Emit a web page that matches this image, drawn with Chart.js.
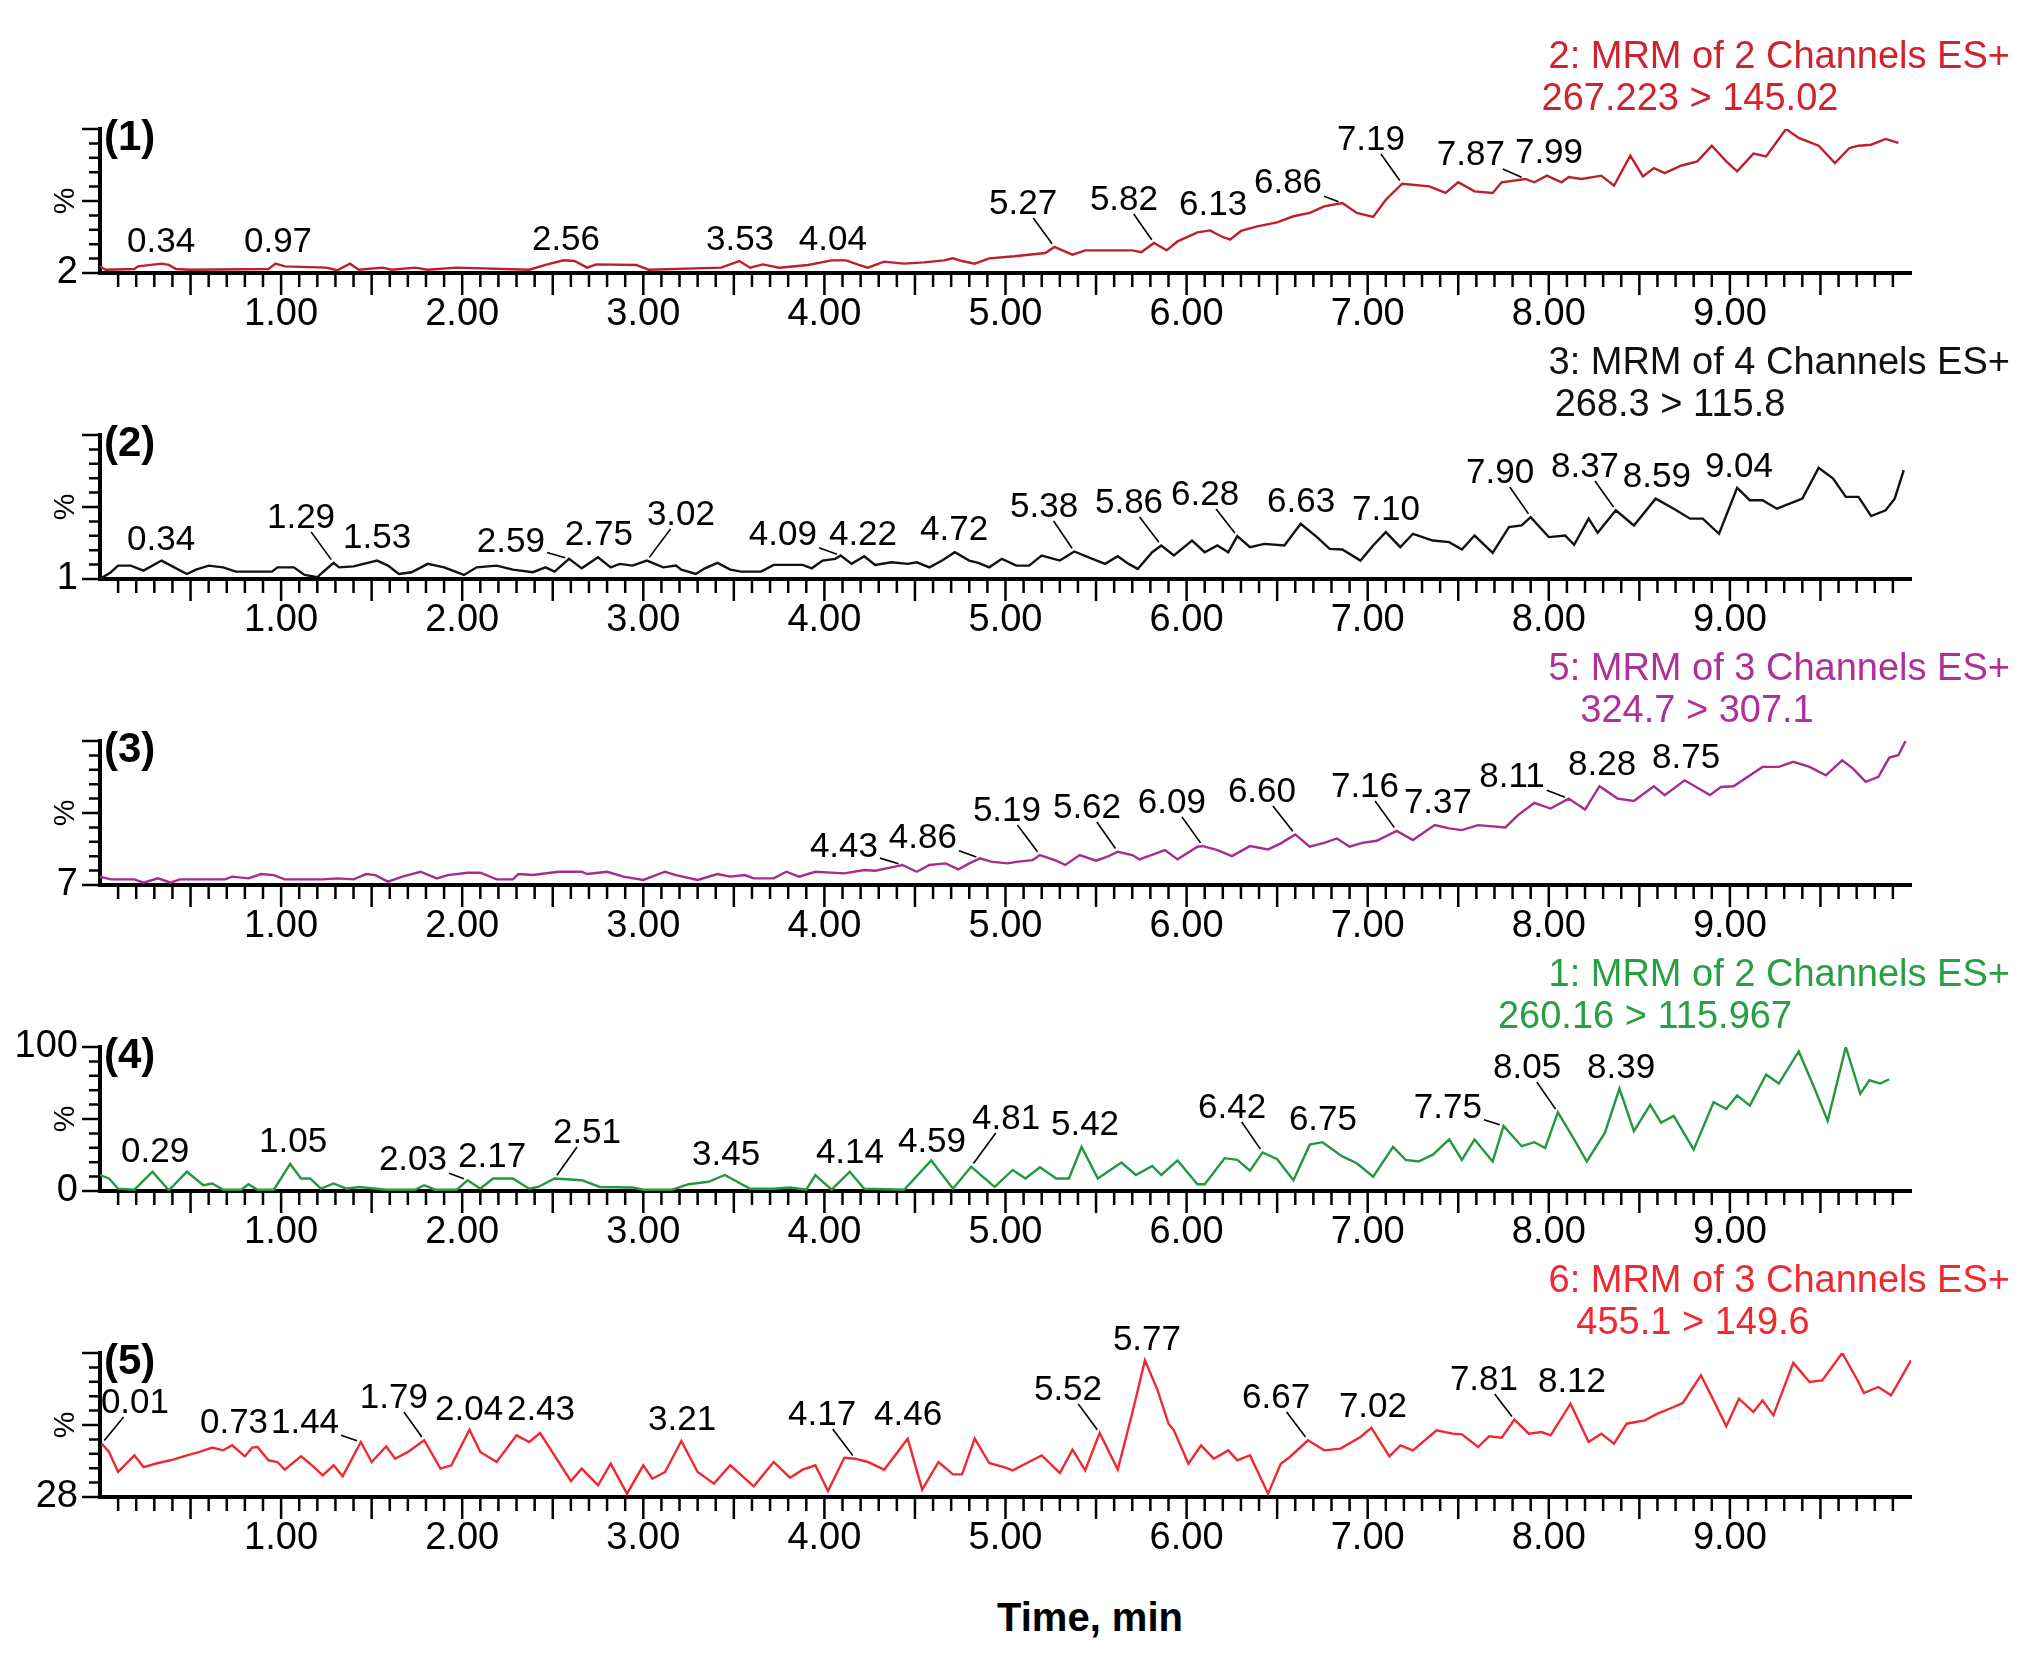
<!DOCTYPE html>
<html>
<head>
<meta charset="utf-8">
<title>MRM chromatograms</title>
<script src="https://cdn.jsdelivr.net/npm/chart.js@4.4.1/dist/chart.umd.min.js"></script>
<style>
  html, body { margin: 0; padding: 0; background: #fff; }
  body { width: 2035px; height: 1661px; position: relative; overflow: hidden; font-family: "Liberation Sans", Arial, sans-serif; }
  canvas { position: absolute; left: 0; }
  #xtitle { position: absolute; left: 940px; width: 300px; top: 1593px; line-height: 48px; text-align: center; font-weight: bold; font-size: 40px; color: #000; }
</style>
</head>
<body>
<div id="xtitle">Time, min</div>
<script>
// retention time (min) and relative intensity (%)
const rt1 = [0, 0.03, 0.19, 0.21, 0.34, 0.38, 0.42, 0.50, 0.93, 0.97, 1.02, 1.25, 1.31, 1.38, 1.43, 1.56, 1.61, 1.74, 1.81, 1.97, 2.37, 2.46, 2.56, 2.62, 2.69, 2.74, 2.96, 3.03, 3.43, 3.53, 3.59, 3.66, 3.75, 3.91, 4.04, 4.12, 4.19, 4.24, 4.33, 4.44, 4.55, 4.66, 4.71, 4.76, 4.83, 4.91, 5.05, 5.22, 5.27, 5.37, 5.44, 5.70, 5.75, 5.82, 5.89, 5.95, 6.06, 6.13, 6.19, 6.24, 6.30, 6.39, 6.50, 6.59, 6.68, 6.76, 6.86, 6.94, 7.03, 7.10, 7.19, 7.34, 7.43, 7.50, 7.59, 7.69, 7.74, 7.87, 7.92, 7.99, 8.07, 8.11, 8.18, 8.29, 8.36, 8.45, 8.52, 8.58, 8.64, 8.73, 8.82, 8.90, 8.98, 9.04, 9.13, 9.20, 9.31, 9.38, 9.49, 9.58, 9.66, 9.71, 9.78, 9.86, 9.93];
const int1 = [4.6, 2.3, 2.8, 4.6, 6.5, 5.6, 2.8, 2.3, 2.8, 6.5, 4.6, 3.7, 1.9, 6.5, 2.3, 3.7, 2.3, 3.7, 2.3, 3.7, 2.3, 5.6, 8.8, 8.3, 3.7, 6.0, 5.6, 2.3, 3.7, 8.3, 3.7, 6.0, 3.7, 5.6, 8.8, 8.8, 5.6, 3.7, 7.9, 6.5, 7.4, 8.8, 10.2, 8.3, 6.5, 10.2, 11.6, 13.9, 18.1, 12.7, 15.7, 15.7, 14.4, 20.8, 15.7, 22.0, 28.2, 29.6, 25.5, 23.1, 29.2, 32.4, 35.2, 39.4, 41.7, 46.3, 48.6, 41.7, 38.9, 50.9, 62.0, 60.2, 55.6, 63.0, 56.7, 55.6, 63.0, 65.3, 63.0, 67.6, 63.0, 66.7, 65.3, 67.6, 60.6, 81.5, 67.1, 72.9, 69.4, 74.5, 77.5, 88.4, 77.5, 70.6, 82.9, 81.0, 100, 93.8, 88.4, 76.4, 86.8, 88.4, 89.1, 93.1, 90.3];

const rt2 = [0, 0.06, 0.10, 0.17, 0.24, 0.34, 0.41, 0.48, 0.53, 0.60, 0.68, 0.75, 0.95, 0.98, 1.07, 1.13, 1.20, 1.23, 1.29, 1.32, 1.40, 1.53, 1.59, 1.65, 1.72, 1.81, 1.90, 2.01, 2.08, 2.19, 2.28, 2.39, 2.46, 2.51, 2.59, 2.66, 2.75, 2.82, 2.87, 2.94, 3.02, 3.11, 3.18, 3.21, 3.29, 3.34, 3.41, 3.48, 3.54, 3.65, 3.72, 3.88, 3.93, 3.99, 4.06, 4.09, 4.15, 4.22, 4.28, 4.37, 4.46, 4.51, 4.58, 4.65, 4.72, 4.80, 4.85, 4.91, 4.98, 5.06, 5.13, 5.20, 5.30, 5.38, 5.48, 5.55, 5.62, 5.68, 5.73, 5.81, 5.86, 5.93, 6.03, 6.10, 6.17, 6.23, 6.28, 6.35, 6.43, 6.54, 6.63, 6.72, 6.79, 6.86, 6.96, 7.03, 7.10, 7.18, 7.25, 7.36, 7.45, 7.52, 7.59, 7.69, 7.78, 7.85, 7.90, 8.00, 8.09, 8.14, 8.22, 8.27, 8.37, 8.47, 8.59, 8.69, 8.78, 8.85, 8.94, 9.04, 9.11, 9.18, 9.26, 9.40, 9.49, 9.57, 9.64, 9.71, 9.78, 9.86, 9.91, 9.96];
const int2 = [0, 4.7, 9.3, 9.3, 5.8, 12.8, 8.1, 3.5, 6.5, 9.3, 8.1, 5.1, 5.1, 8.1, 8.1, 2.8, 1.2, 4.7, 11.2, 8.1, 8.8, 12.8, 9.3, 3.5, 4.7, 10.5, 8.1, 2.8, 8.1, 9.3, 6.5, 4.7, 8.1, 5.1, 14.0, 7.4, 15.1, 8.1, 10.5, 9.3, 12.8, 8.1, 9.3, 6.5, 3.5, 7.4, 11.2, 6.5, 5.1, 5.1, 9.8, 9.8, 7.4, 12.8, 14.0, 16.3, 10.5, 15.8, 9.8, 11.6, 10.5, 11.6, 8.1, 12.8, 18.6, 12.8, 11.2, 8.1, 14.0, 9.3, 9.3, 16.3, 12.8, 19.1, 14.0, 10.5, 15.8, 10.5, 7.0, 18.6, 23.3, 16.3, 26.7, 18.6, 23.3, 18.6, 29.8, 22.1, 24.4, 23.3, 38.4, 29.1, 20.9, 20.5, 12.8, 23.3, 32.6, 22.1, 31.4, 26.7, 25.6, 20.5, 30.2, 18.1, 36.0, 37.2, 43.0, 29.1, 30.2, 23.7, 41.9, 32.1, 47.7, 37.2, 55.8, 48.8, 41.9, 41.9, 31.4, 63.3, 54.7, 54.7, 48.8, 55.8, 77.2, 69.8, 57.0, 57.0, 43.7, 47.7, 55.8, 75.6];

const rt3 = [0, 0.06, 0.19, 0.24, 0.32, 0.39, 0.44, 0.69, 0.73, 0.82, 0.89, 0.96, 1.02, 1.23, 1.31, 1.40, 1.47, 1.52, 1.59, 1.67, 1.77, 1.86, 1.92, 2.03, 2.10, 2.19, 2.28, 2.31, 2.39, 2.53, 2.66, 2.69, 2.80, 2.89, 3.00, 3.12, 3.18, 3.30, 3.41, 3.48, 3.56, 3.61, 3.72, 3.79, 3.86, 3.95, 4.11, 4.22, 4.28, 4.37, 4.43, 4.51, 4.58, 4.67, 4.74, 4.80, 4.86, 4.92, 5.01, 5.07, 5.15, 5.19, 5.28, 5.33, 5.41, 5.50, 5.57, 5.62, 5.70, 5.74, 5.82, 5.88, 5.95, 6.06, 6.09, 6.17, 6.25, 6.35, 6.45, 6.52, 6.60, 6.68, 6.76, 6.83, 6.90, 6.97, 7.05, 7.16, 7.25, 7.37, 7.45, 7.52, 7.61, 7.76, 7.83, 7.92, 8.01, 8.11, 8.20, 8.28, 8.38, 8.47, 8.58, 8.64, 8.75, 8.89, 8.95, 9.02, 9.18, 9.27, 9.35, 9.44, 9.53, 9.62, 9.68, 9.75, 9.82, 9.88, 9.93, 9.97];
const int3 = [5.8, 3.9, 3.9, 1.6, 4.6, 1.6, 3.9, 3.9, 5.8, 4.6, 7.6, 6.9, 3.9, 3.9, 4.6, 3.9, 7.6, 6.9, 2.3, 5.8, 9.2, 4.6, 6.9, 8.5, 8.5, 3.9, 3.9, 7.6, 6.9, 9.2, 9.2, 7.6, 9.2, 5.8, 3.5, 9.2, 6.9, 3.5, 7.6, 5.8, 6.9, 4.6, 4.6, 9.2, 5.8, 9.2, 8.1, 10.4, 9.9, 12.2, 13.9, 9.2, 13.9, 15.0, 10.9, 15.0, 18.5, 16.2, 15.0, 16.2, 17.3, 20.8, 16.9, 13.9, 20.8, 16.9, 20.1, 23.1, 20.8, 17.8, 21.5, 24.2, 17.8, 26.6, 27.0, 24.2, 20.1, 27.0, 24.7, 28.9, 35.1, 26.6, 29.3, 32.3, 26.6, 29.3, 30.7, 37.6, 31.2, 41.6, 39.3, 38.1, 41.6, 40.0, 48.5, 57.0, 53.1, 60.0, 52.4, 68.6, 60.0, 58.4, 68.6, 62.4, 72.7, 62.4, 68.1, 68.6, 82.0, 82.0, 85.5, 82.0, 76.2, 86.6, 80.8, 71.6, 75.1, 88.5, 90.1, 100];

const rt4 = [0, 0.05, 0.10, 0.19, 0.29, 0.38, 0.48, 0.57, 0.62, 0.68, 0.78, 0.82, 0.87, 0.96, 1.05, 1.11, 1.16, 1.22, 1.29, 1.36, 1.43, 1.58, 1.74, 1.79, 1.85, 1.97, 2.03, 2.10, 2.17, 2.28, 2.37, 2.42, 2.51, 2.66, 2.76, 2.94, 3.00, 3.16, 3.25, 3.36, 3.45, 3.59, 3.72, 3.81, 3.90, 3.95, 4.04, 4.14, 4.22, 4.44, 4.59, 4.71, 4.81, 4.94, 5.04, 5.11, 5.19, 5.28, 5.35, 5.42, 5.51, 5.64, 5.72, 5.81, 5.86, 5.95, 6.06, 6.10, 6.21, 6.28, 6.35, 6.42, 6.50, 6.59, 6.68, 6.75, 6.86, 6.94, 7.03, 7.14, 7.21, 7.28, 7.36, 7.45, 7.52, 7.59, 7.69, 7.75, 7.85, 7.92, 7.98, 8.05, 8.14, 8.21, 8.31, 8.39, 8.47, 8.56, 8.62, 8.69, 8.80, 8.91, 8.98, 9.04, 9.11, 9.20, 9.27, 9.38, 9.46, 9.54, 9.64, 9.72, 9.77, 9.83, 9.88];
const int4 = [11.1, 8.7, 1.6, 0.9, 13.4, 0.5, 13.4, 4.0, 5.2, 0.9, 0.9, 4.7, 0.9, 0.9, 18.8, 8.7, 8.7, 1.6, 5.2, 1.6, 2.8, 0.9, 0.9, 4.0, 0.9, 0.9, 7.5, 1.6, 8.7, 8.7, 1.6, 2.8, 8.7, 7.5, 2.8, 2.4, 0.9, 0.9, 4.7, 6.4, 11.1, 1.6, 1.6, 2.4, 0.9, 11.1, 0.9, 13.4, 1.6, 0.9, 21.2, 1.6, 16.9, 2.8, 14.6, 8.7, 16.5, 8.7, 8.7, 30.6, 8.7, 19.8, 11.1, 17.4, 11.1, 21.2, 4.7, 4.7, 22.8, 21.6, 14.1, 26.8, 22.1, 7.5, 32.2, 33.9, 24.0, 19.3, 9.9, 30.6, 21.6, 20.5, 25.2, 35.8, 21.6, 35.8, 20.5, 45.2, 31.1, 33.9, 29.9, 54.6, 35.8, 20.5, 40.5, 71.1, 41.6, 59.8, 47.5, 52.2, 28.7, 61.6, 56.9, 66.4, 59.3, 80.9, 74.6, 96.9, 73.4, 48.7, 100, 67.5, 76.9, 74.6, 77.6];

const rt5 = [0.01, 0.05, 0.10, 0.19, 0.24, 0.32, 0.39, 0.48, 0.55, 0.62, 0.68, 0.73, 0.80, 0.84, 0.87, 0.93, 0.98, 1.02, 1.11, 1.16, 1.23, 1.29, 1.34, 1.44, 1.50, 1.58, 1.63, 1.70, 1.79, 1.88, 1.94, 2.04, 2.10, 2.19, 2.30, 2.37, 2.43, 2.60, 2.66, 2.75, 2.82, 2.91, 3.00, 3.05, 3.12, 3.21, 3.30, 3.39, 3.48, 3.61, 3.72, 3.81, 3.88, 3.95, 4.02, 4.11, 4.17, 4.24, 4.33, 4.46, 4.54, 4.63, 4.71, 4.76, 4.83, 4.91, 5.00, 5.04, 5.11, 5.20, 5.30, 5.37, 5.44, 5.52, 5.62, 5.70, 5.77, 5.84, 5.90, 5.93, 6.01, 6.08, 6.15, 6.23, 6.28, 6.35, 6.45, 6.52, 6.57, 6.67, 6.76, 6.85, 6.96, 7.02, 7.12, 7.18, 7.25, 7.38, 7.47, 7.52, 7.61, 7.67, 7.74, 7.81, 7.89, 7.96, 8.01, 8.12, 8.22, 8.29, 8.36, 8.43, 8.53, 8.60, 8.69, 8.74, 8.84, 8.91, 8.98, 9.05, 9.13, 9.18, 9.24, 9.35, 9.44, 9.51, 9.62, 9.71, 9.74, 9.82, 9.89, 10.00];
const int5 = [37.0, 31.3, 17.4, 28.9, 20.8, 23.6, 25.5, 28.9, 31.3, 34.3, 32.4, 35.9, 28.2, 34.3, 34.7, 25.5, 24.3, 19.0, 28.2, 23.1, 15.0, 22.0, 14.4, 38.2, 24.3, 35.2, 26.6, 31.3, 39.4, 19.7, 22.0, 46.8, 31.3, 24.3, 42.8, 38.2, 44.4, 11.1, 19.7, 8.1, 23.1, 2.3, 22.0, 12.7, 17.4, 38.9, 17.4, 9.3, 22.0, 7.4, 24.3, 13.4, 19.0, 22.0, 4.2, 27.3, 26.6, 24.3, 19.0, 40.5, 5.1, 24.3, 15.7, 15.7, 40.5, 23.6, 20.4, 18.5, 23.1, 28.9, 16.7, 32.9, 18.5, 44.4, 19.0, 58.3, 94.9, 74.1, 50.9, 46.3, 23.1, 35.9, 26.6, 32.4, 25.5, 28.9, 2.3, 23.1, 27.8, 39.4, 32.4, 33.6, 41.7, 48.1, 28.2, 35.9, 32.4, 46.3, 44.0, 43.5, 34.7, 42.1, 41.2, 53.7, 44.0, 45.1, 42.8, 64.8, 38.2, 44.0, 37.0, 50.9, 53.2, 57.9, 62.5, 65.3, 84.5, 67.1, 49.1, 68.3, 59.0, 67.1, 56.7, 93.1, 79.9, 81.0, 100, 79.9, 72.2, 76.4, 70.6, 94.9];

// apex retention times printed over the peaks
const peaks1 = ['0.34', '0.97', '2.56', '3.53', '4.04', '5.27', '5.82', '6.13', '6.86', '7.19', '7.87', '7.99'];
const peaks2 = ['0.34', '1.29', '1.53', '2.59', '2.75', '3.02', '4.09', '4.22', '4.72', '5.38', '5.86', '6.28', '6.63', '7.10', '7.90', '8.37', '8.59', '9.04'];
const peaks3 = ['4.43', '4.86', '5.19', '5.62', '6.09', '6.60', '7.16', '7.37', '8.11', '8.28', '8.75'];
const peaks4 = ['0.29', '1.05', '2.03', '2.17', '2.51', '3.45', '4.14', '4.59', '4.81', '5.42', '6.42', '6.75', '7.75', '8.05', '8.39'];
const peaks5 = ['0.01', '0.73', '1.44', '1.79', '2.04', '2.43', '3.21', '4.17', '4.46', '5.52', '5.77', '6.67', '7.02', '7.81', '8.12'];

// where each peak label sits: [time, % level] of the label centre
const spots1 = [[0.337, 21.5], [0.983, 21.5], [2.573, 22.9], [3.534, 22.9], [4.047, 22.9], [5.097, 47.9], [5.654, 50.7], [6.146, 47.2], [6.560, 62.5], [7.018, 92.4], [7.570, 81.9], [8.001, 83.3]];
const spots2 = [[0.337, 27.1], [1.110, 42.4], [1.530, 28.5], [2.269, 25.7], [2.755, 30.6], [3.208, 44.4], [3.771, 30.6], [4.213, 30.6], [4.716, 34.0], [5.213, 50.0], [5.682, 52.8], [6.102, 58.3], [6.632, 53.5], [7.101, 47.9], [7.731, 73.6], [8.200, 77.8], [8.597, 70.8], [9.050, 77.8]];
const spots3 = [[4.108, 26.4], [4.544, 32.6], [5.008, 51.4], [5.450, 53.5], [5.919, 56.9], [6.416, 64.6], [6.985, 68.1], [7.388, 56.9], [7.797, 75.0], [8.294, 83.3], [8.758, 88.2]];
const spots4 = [[0.304, 27.1], [1.066, 34.0], [1.728, 21.5], [2.165, 23.6], [2.689, 40.3], [3.457, 25.0], [4.141, 26.4], [4.594, 34.0], [5.003, 50.0], [5.439, 45.8], [6.251, 57.6], [6.753, 49.3], [7.443, 57.6], [7.880, 85.4], [8.399, 85.4]];
const spots5 = [[0.193, 65.3], [0.740, 51.4], [1.132, 51.4], [1.623, 68.8], [2.038, 60.4], [2.435, 60.4], [3.214, 53.5], [3.987, 56.9], [4.462, 56.9], [5.345, 74.3], [5.781, 109.0], [6.494, 68.8], [7.029, 62.5], [7.642, 81.3], [8.128, 79.9]];

const FONT = '"Liberation Sans", Arial, sans-serif';
const W = 2035;
const AREA_TOP = 105;   // chart area top inside each canvas
const AREA_H = 144;
const CANVAS_H = 330;
const AREA_RIGHT = 1911;

const panels = [
  { tag: '(1)', title: '2: MRM of 2 Channels ES+', sub: '267.223 > 145.02', subX: 1690, color: '#bd1f2d', textColor: '#d0222f', rt: rt1, y: int1, peaks: peaks1, spots: spots1, yLabels: { 0: '2' } },
  { tag: '(2)', title: '3: MRM of 4 Channels ES+', sub: '268.3 > 115.8', subX: 1670, color: '#111111', textColor: '#111111', rt: rt2, y: int2, peaks: peaks2, spots: spots2, yLabels: { 0: '1' } },
  { tag: '(3)', title: '5: MRM of 3 Channels ES+', sub: '324.7 > 307.1', subX: 1697, color: '#a82b91', textColor: '#b0309a', rt: rt3, y: int3, peaks: peaks3, spots: spots3, yLabels: { 0: '7' } },
  { tag: '(4)', title: '1: MRM of 2 Channels ES+', sub: '260.16 > 115.967', subX: 1645, color: '#22993f', textColor: '#27a043', rt: rt4, y: int4, peaks: peaks4, spots: spots4, yLabels: { 0: '0', 100: '100' } },
  { tag: '(5)', title: '6: MRM of 3 Channels ES+', sub: '455.1 > 149.6', subX: 1693, color: '#ee2a30', textColor: '#ee2a30', rt: rt5, y: int5, peaks: peaks5, spots: spots5, yLabels: { 0: '28' } }
];

// minor / major tick marks on both axes
const tickMarks = {
  id: 'tickMarks',
  afterDraw(chart) {
    const { ctx, chartArea: a, scales: { x, y } } = chart;
    ctx.save();
    ctx.strokeStyle = '#000';
    ctx.lineWidth = 2.5;
    ctx.beginPath();
    for (let k = 1; k < 100; k++) {
      const px = x.getPixelForValue(k / 10);
      const len = k % 5 === 0 ? 22 : 14;
      ctx.moveTo(px, a.bottom);
      ctx.lineTo(px, a.bottom + len);
    }
    for (let k = 0; k <= 10; k++) {
      const py = y.getPixelForValue(k * 10);
      const len = k % 5 === 0 ? 18 : 11;
      ctx.moveTo(a.left, py);
      ctx.lineTo(a.left - len, py);
    }
    ctx.stroke();
    ctx.restore();
  }
};

// channel header, panel tag, % sign and peak labels with leader lines
const panelText = {
  id: 'panelText',
  afterDraw(chart, args, p) {
    const { ctx, chartArea: a, scales: { x, y } } = chart;
    ctx.save();
    ctx.textBaseline = 'middle';

    ctx.fillStyle = p.textColor;
    ctx.font = `38px ${FONT}`;
    ctx.textAlign = 'right';
    ctx.fillText(p.title, 2010, a.top - 71);
    ctx.textAlign = 'center';
    ctx.fillText(p.sub, p.subX, a.top - 29);

    ctx.fillStyle = '#000';
    ctx.font = `bold 42px ${FONT}`;
    ctx.textAlign = 'left';
    ctx.fillText(p.tag, 104, a.top + 9);

    ctx.save();
    ctx.font = `30px ${FONT}`;
    ctx.textAlign = 'center';
    ctx.translate(66, a.top + 72);
    ctx.rotate(-Math.PI / 2);
    ctx.fillText('%', 0, 0);
    ctx.restore();

    ctx.font = `35px ${FONT}`;
    ctx.textAlign = 'center';
    ctx.strokeStyle = '#000';
    ctx.lineWidth = 1.6;
    const pts = chart.getDatasetMeta(0).data;
    ctx.beginPath();
    p.peaks.forEach((txt, i) => {
      const lx = x.getPixelForValue(p.spots[i][0]);
      const ly = y.getPixelForValue(p.spots[i][1]);
      ctx.fillText(txt, lx, ly);
      // the trace point this label belongs to
      const t = parseFloat(txt);
      let best = 0;
      p.rt.forEach((r, k) => { if (Math.abs(r - t) < Math.abs(p.rt[best] - t)) best = k; });
      const ax = pts[best].x, ay = pts[best].y;
      const dx = ax - lx, dy = ay - ly;
      if (Math.abs(dx) > 12 && dy > 0) {
        const hw = ctx.measureText(txt).width / 2 + 2, hh = 14;
        const s = Math.min(Math.abs(hw / dx), Math.abs(hh / dy));
        const e = 1 - 4 / Math.hypot(dx, dy);
        ctx.moveTo(lx + dx * s, ly + dy * s);
        ctx.lineTo(lx + dx * e, ly + dy * e);
      }
    });
    ctx.stroke();
    ctx.restore();
  }
};

panels.forEach((p, i) => {
  const cv = document.createElement('canvas');
  cv.width = W;
  cv.height = CANVAS_H;
  cv.style.top = (129 + 306 * i - AREA_TOP) + 'px';
  document.body.appendChild(cv);

  new Chart(cv, {
    type: 'line',
    data: {
      datasets: [{
        data: p.rt.map((t, k) => ({ x: t, y: p.y[k] })),
        borderColor: p.color,
        borderWidth: 2.4,
        pointRadius: 0,
        tension: 0,
        fill: false
      }]
    },
    options: {
      responsive: false,
      animation: false,
      devicePixelRatio: 1,
      layout: { padding: { top: AREA_TOP, right: W - AREA_RIGHT, left: 0, bottom: 0 } },
      plugins: {
        legend: { display: false },
        tooltip: { enabled: false },
        panelText: p
      },
      scales: {
        x: {
          type: 'linear',
          min: 0,
          max: 10,
          afterFit: s => { s.height = CANVAS_H - AREA_TOP - AREA_H; },
          grid: { display: false, drawTicks: false },
          border: { display: true, color: '#000', width: 4 },
          ticks: {
            stepSize: 1,
            autoSkip: false,
            maxRotation: 0,
            padding: 19,
            color: '#000',
            font: { size: 38, family: FONT },
            callback: v => (v >= 1 && v <= 9) ? v.toFixed(2) : ''
          }
        },
        y: {
          min: 0,
          max: 100,
          afterFit: s => { s.width = 100; },
          grid: { display: false, drawTicks: false },
          border: { display: true, color: '#000', width: 4 },
          ticks: {
            stepSize: 10,
            autoSkip: false,
            padding: 22,
            color: '#000',
            font: { size: 38, family: FONT },
            callback: v => p.yLabels[v] ?? ''
          }
        }
      }
    },
    plugins: [tickMarks, panelText]
  });
});
</script>
</body>
</html>
